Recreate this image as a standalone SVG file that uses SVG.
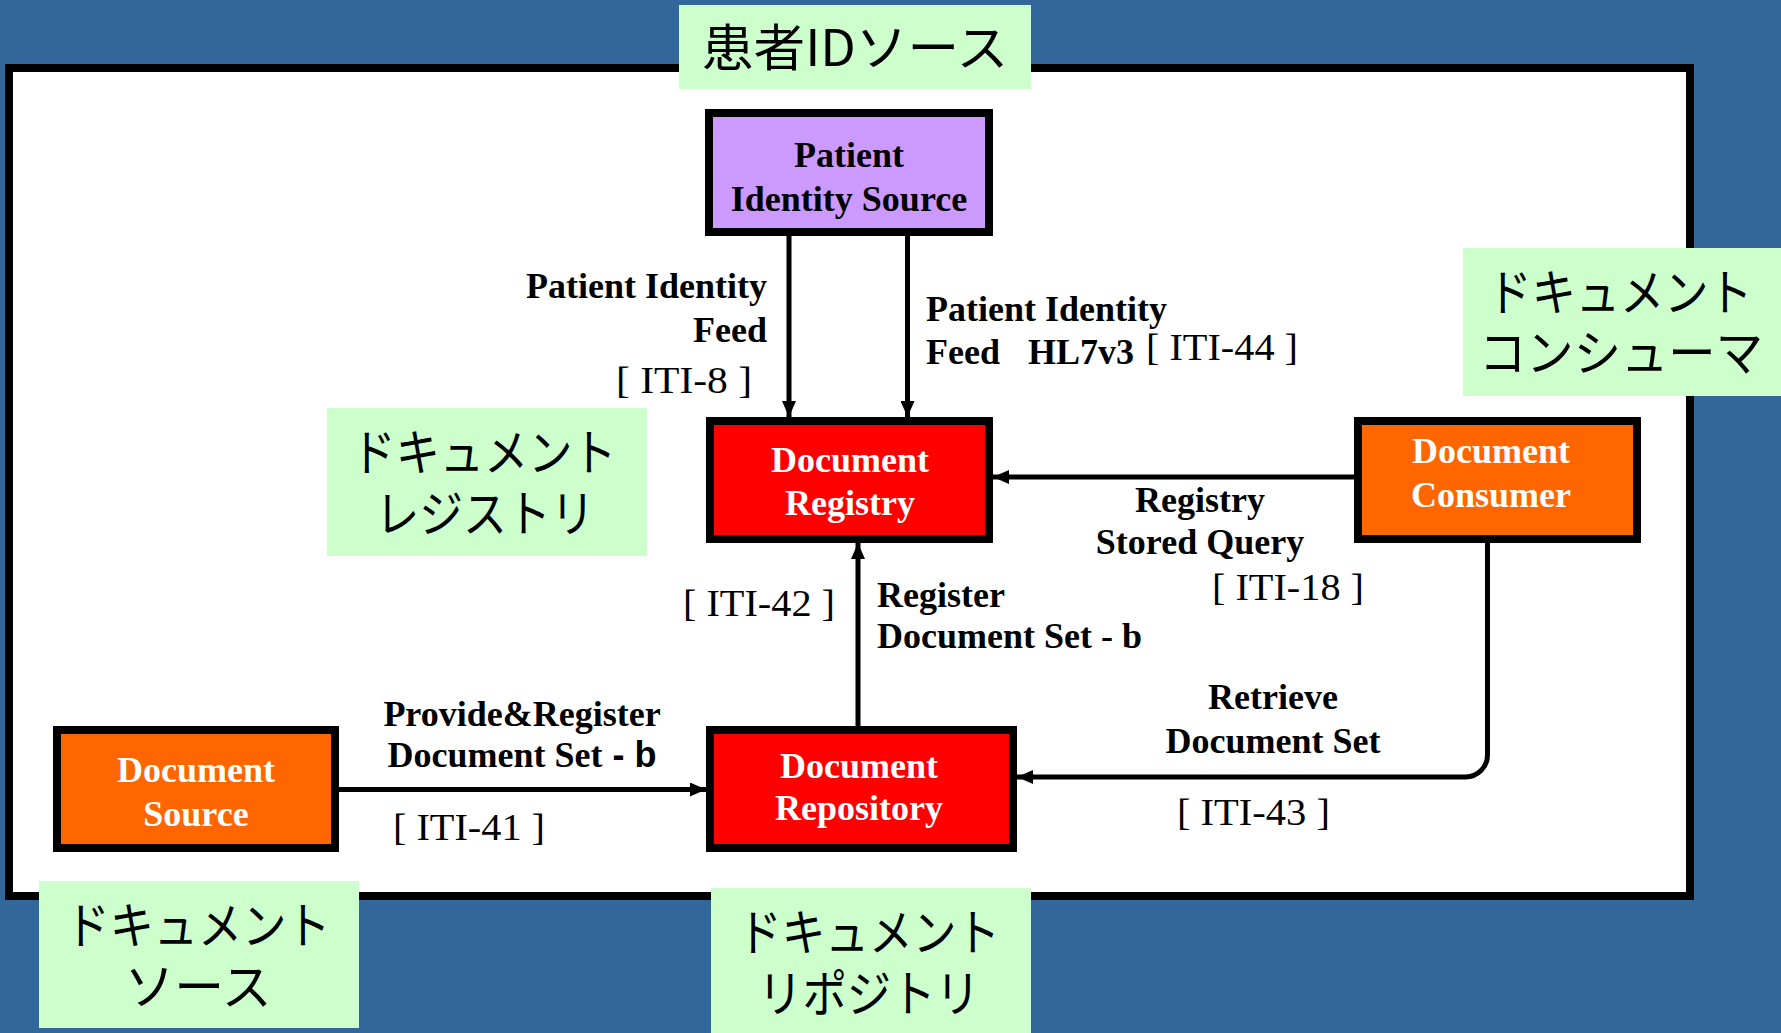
<svg xmlns="http://www.w3.org/2000/svg" width="1781" height="1033" viewBox="0 0 1781 1033">
  <style>
    .box { stroke: #000; stroke-width: 8; }
    .pis { fill: #CC99FF; }
    .red { fill: #FF0000; }
    .orange { fill: #FF6600; }
    .tag { fill: #CCFFCC; }
    .nodetext { font-family: "Liberation Serif", "Times New Roman", serif; font-weight: bold; font-size: 36px; text-anchor: middle; }
    .dark { fill: #000; }
    .light { fill: #FFF; }
    .lbl { font-family: "Liberation Serif", "Times New Roman", serif; font-weight: bold; font-size: 36px; fill: #000; }
    .iti { font-family: "Liberation Serif", "Times New Roman", serif; font-size: 38px; fill: #000; }
    .jp { font-family: "Noto Sans CJK JP", "Noto Sans", sans-serif; font-size: 50px; fill: #000; text-anchor: middle; }
    .wire { fill: none; stroke: #000; stroke-width: 5; }
  </style>
  <defs>
    <marker id="arrow" markerUnits="userSpaceOnUse" markerWidth="16" markerHeight="14" refX="16" refY="7" orient="auto">
      <path d="M0,0 L16,7 L0,14 z" fill="#000"/>
    </marker>
  </defs>

  <!-- backdrop and frame -->
  <rect x="0" y="0" width="1781" height="1033" fill="#336699"/>
  <rect x="9" y="68" width="1681" height="828" fill="#FFFFFF" stroke="#000" stroke-width="8"/>

  <!-- connectors -->
  <g id="connectors">
    <line class="wire" x1="789" y1="236" x2="789" y2="417" marker-end="url(#arrow)"/>
    <line class="wire" x1="907.5" y1="236" x2="907.5" y2="417" marker-end="url(#arrow)"/>
    <line class="wire" x1="1354" y1="477" x2="993" y2="477" marker-end="url(#arrow)"/>
    <line class="wire" x1="858" y1="726" x2="858" y2="543" marker-end="url(#arrow)"/>
    <line class="wire" x1="339" y1="789.5" x2="706" y2="789.5" marker-end="url(#arrow)"/>
    <path class="wire" d="M1487.5,543 V755 A22,22 0 0 1 1465.5,777 H1017" marker-end="url(#arrow)"/>

    <text class="lbl" x="767" y="298" text-anchor="end">Patient Identity</text>
    <text class="lbl" x="767" y="342" text-anchor="end">Feed</text>
    <text class="iti" x="616" y="393" textLength="136" lengthAdjust="spacingAndGlyphs">[ ITI-8 ]</text>

    <text class="lbl" x="926" y="321">Patient Identity</text>
    <text class="lbl" x="926" y="364">Feed <tspan x="1028">HL7v3</tspan></text>
    <text class="iti" x="1146" y="360" textLength="152" lengthAdjust="spacingAndGlyphs">[ ITI-44 ]</text>

    <text class="lbl" x="1200" y="512" text-anchor="middle">Registry</text>
    <text class="lbl" x="1200" y="554" text-anchor="middle">Stored Query</text>
    <text class="iti" x="1212" y="600" textLength="152" lengthAdjust="spacingAndGlyphs">[ ITI-18 ]</text>

    <text class="iti" x="683" y="616" textLength="152" lengthAdjust="spacingAndGlyphs">[ ITI-42 ]</text>
    <text class="lbl" x="877" y="607">Register</text>
    <text class="lbl" x="877" y="648">Document Set - b</text>

    <text class="lbl" x="522" y="726" text-anchor="middle">Provide&amp;Register</text>
    <text class="lbl" x="522" y="767" text-anchor="middle">Document Set<tspan font-family="Liberation Sans, Arial, sans-serif"> - b</tspan></text>
    <text class="iti" x="393" y="840" textLength="152" lengthAdjust="spacingAndGlyphs">[ ITI-41 ]</text>

    <text class="lbl" x="1273" y="709" text-anchor="middle">Retrieve</text>
    <text class="lbl" x="1273" y="753" text-anchor="middle">Document Set</text>
    <text class="iti" x="1177" y="825" textLength="153" lengthAdjust="spacingAndGlyphs">[ ITI-43 ]</text>
  </g>

  <!-- actors -->
  <g id="patient-identity-source">
    <rect class="box pis" x="709" y="113" width="280" height="119"/>
    <text class="nodetext dark" x="849" y="167">Patient</text>
    <text class="nodetext dark" x="849" y="211">Identity Source</text>
  </g>

  <g id="document-registry">
    <rect class="box red" x="710" y="421" width="279" height="118"/>
    <text class="nodetext light" x="850" y="472">Document</text>
    <text class="nodetext light" x="850" y="515">Registry</text>
  </g>

  <g id="document-consumer">
    <rect class="box orange" x="1358" y="421" width="279" height="118"/>
    <text class="nodetext light" x="1491" y="463">Document</text>
    <text class="nodetext light" x="1491" y="507">Consumer</text>
  </g>

  <g id="document-repository">
    <rect class="box red" x="710" y="730" width="303" height="118"/>
    <text class="nodetext light" x="859" y="778">Document</text>
    <text class="nodetext light" x="859" y="820">Repository</text>
  </g>

  <g id="document-source">
    <rect class="box orange" x="57" y="730" width="278" height="118"/>
    <text class="nodetext light" x="196" y="782">Document</text>
    <text class="nodetext light" x="196" y="826">Source</text>
  </g>

  <!-- Japanese actor names -->
  <g id="tag-patient-id-source">
    <rect class="tag" x="679" y="5" width="352" height="84"/>
    <text class="jp" x="855" y="66" textLength="306" lengthAdjust="spacingAndGlyphs">患者IDソース</text>
  </g>

  <g id="tag-registry">
    <rect class="tag" x="327" y="408" width="320" height="148"/>
    <text class="jp" x="484" y="471" textLength="265" lengthAdjust="spacingAndGlyphs">ドキュメント</text>
    <text class="jp" x="485" y="532" textLength="219" lengthAdjust="spacingAndGlyphs">レジストリ</text>
  </g>

  <g id="tag-consumer">
    <rect class="tag" x="1463" y="248" width="318" height="148"/>
    <text class="jp" x="1620" y="311" textLength="265" lengthAdjust="spacingAndGlyphs">ドキュメント</text>
    <text class="jp" x="1621" y="371" textLength="284" lengthAdjust="spacingAndGlyphs">コンシューマ</text>
  </g>

  <g id="tag-source">
    <rect class="tag" x="39" y="881" width="320" height="147"/>
    <text class="jp" x="198" y="944" textLength="265" lengthAdjust="spacingAndGlyphs">ドキュメント</text>
    <text class="jp" x="198" y="1005" textLength="147" lengthAdjust="spacingAndGlyphs">ソース</text>
  </g>

  <g id="tag-repository">
    <rect class="tag" x="711" y="888" width="320" height="145"/>
    <text class="jp" x="869" y="951" textLength="262" lengthAdjust="spacingAndGlyphs">ドキュメント</text>
    <text class="jp" x="869" y="1012" textLength="222" lengthAdjust="spacingAndGlyphs">リポジトリ</text>
  </g>
</svg>
